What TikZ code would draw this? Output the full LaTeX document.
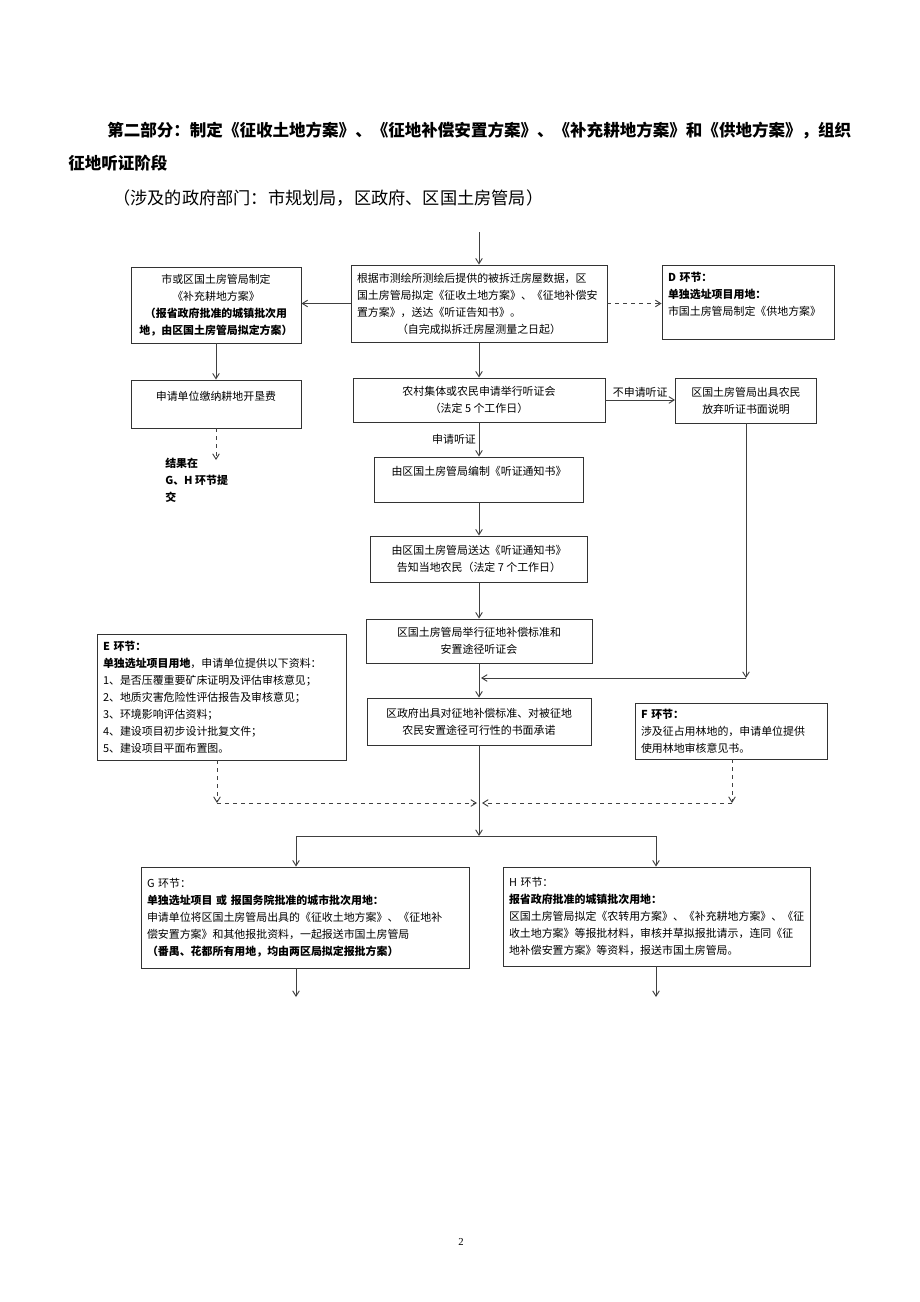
\documentclass[tikz,border=0pt]{standalone}
\usepackage{fontspec}
\setmainfont{Noto Sans CJK SC}
\newfontfamily\pagenum{Liberation Serif}
\usetikzlibrary{arrows.meta,positioning}

\begin{document}
\begin{tikzpicture}[x=0.75pt, y=-0.75pt,
            box/.style={rectangle, draw=black!80, line width=0.7pt, inner sep=3pt, align=center, font=\fontsize{8.2pt}{12.75pt}\selectfont},
            leftbox/.style={box, inner xsep=4.5pt, align=left, text width=#1},
            arrow/.style={-{Straight Barb[length=4pt,width=5pt]}, line width=0.7pt, black!75},
            dasharrow/.style={arrow, dashed},
            link/.style={line width=0.7pt, black!75},
            lbl/.style={text=black, font=\fontsize{8.2pt}{10pt}\selectfont, inner sep=2pt}
            ]
            \useasboundingbox (0,0) rectangle (920,1302);

            % Heading
            \node[anchor=west, inner sep=0pt, font=\bfseries\fontsize{12.4pt}{15pt}\selectfont] (title) at (107,131) {第二部分：制定《征收土地方案》、《征地补偿安置方案》、《补充耕地方案》和《供地方案》，组织};
            \node[anchor=west, inner sep=0pt, font=\bfseries\fontsize{12.4pt}{15pt}\selectfont] (title2) at (68,163) {征地听证阶段};
            \node[anchor=west, inner sep=0pt, font=\fontsize{12.9pt}{15pt}\selectfont] (depts) at (113,198) {（涉及的政府部门：市规划局，区政府、区国土房管局）};

            % First row
            \node[leftbox=183pt, minimum height=57.75pt] (survey) at (479,303.5) {根据市测绘所测绘后提供的被拆迁房屋数据，区\\国土房管局拟定《征收土地方案》、《征地补偿安\\置方案》，送达《听证告知书》。\\\makebox[\linewidth]{（自完成拟拆迁房屋测量之日起）}};
            \node[box, minimum width=127.5pt, minimum height=57pt] (plan) at (216,305) {市或区国土房管局制定\\《补充耕地方案》\\\textbf{（报省政府批准的城镇批次用}\\\textbf{地，由区国土房管局拟定方案）}};
            \node[leftbox=120pt, minimum height=55.5pt] (supply) at (748,302) {\textbf{D 环节：}\\\textbf{单独选址项目用地：}\\市国土房管局制定《供地方案》\\\mbox{}};

            % Fee branch
            \node[box, minimum width=127.5pt, minimum height=36pt] (fee) at (216,404) {申请单位缴纳耕地开垦费\\\mbox{}};
            \coordinate (feeend) at (216,460);
            \node[anchor=north west, align=left, inner sep=0pt, font=\bfseries\fontsize{8.2pt}{12.75pt}\selectfont] (result) at (165,458) {结果在\\G、H 环节提\\交};

            % Hearing chain
            \node[box, minimum width=189pt, minimum height=33pt] (apply) at (479,400) {农村集体或农民申请举行听证会\\（法定 5 个工作日）};
            \node[box, minimum width=105.75pt, minimum height=33.75pt] (waive) at (746,400.5) {区国土房管局出具农民\\放弃听证书面说明};
            \node[box, minimum width=156.75pt, minimum height=33.75pt] (compile) at (479,479.5) {由区国土房管局编制《听证通知书》\\\mbox{}};
            \node[box, minimum width=162.75pt, minimum height=34.5pt] (notify) at (479,559) {由区国土房管局送达《听证通知书》\\告知当地农民（法定 7 个工作日）};
            \node[box, minimum width=169.5pt, minimum height=33pt] (hearing) at (479,641) {区国土房管局举行征地补偿标准和\\安置途径听证会};
            \node[box, minimum width=168pt, minimum height=35.25pt] (promise) at (479,721.5) {区政府出具对征地补偿标准、对被征地\\农民安置途径可行性的书面承诺};

            % Side materials
            \node[leftbox=177.75pt, minimum height=94.5pt] (matE) at (221.5,697) {\textbf{E 环节：}\\\textbf{单独选址项目用地}，申请单位提供以下资料：\\1、是否压覆重要矿床证明及评估审核意见；\\2、地质灾害危险性评估报告及审核意见；\\3、环境影响评估资料；\\4、建设项目初步设计批复文件；\\5、建设项目平面布置图。};
            \node[leftbox=135pt, minimum height=42pt] (forest) at (731,731) {\textbf{F 环节：}\\涉及征占用林地的，申请单位提供\\使用林地审核意见书。};

            % Final stage
            \node[leftbox=237pt, minimum height=75.75pt] (stageG) at (305,917.5) {G 环节：\\\textbf{单独选址项目 或 报国务院批准的城市批次用地：}\\申请单位将区国土房管局出具的《征收土地方案》、《征地补\\偿安置方案》和其他报批资料，一起报送市国土房管局\\\textbf{（番禺、花都所有用地，均由两区局拟定报批方案）}};
            \node[leftbox=221.25pt, minimum height=74.25pt] (stageH) at (656.5,916.5) {H 环节：\\\textbf{报省政府批准的城镇批次用地：}\\区国土房管局拟定《农转用方案》、《补充耕地方案》、《征\\收土地方案》等报批材料，审核并草拟报批请示，连同《征\\地补偿安置方案》等资料，报送市国土房管局。};

            \node[font=\pagenum\fontsize{8pt}{10pt}\selectfont] (pageno) at (461,1242) {2};

            % Turning points
            \coordinate (entry) at (479,232);
            \coordinate (joinR) at (746,678);
            \coordinate (joinM) at (481,678);
            \coordinate (turnE) at (217,803);
            \coordinate (midE) at (477,803);
            \coordinate (turnF) at (732,803);
            \coordinate (midF) at (482,803);
            \coordinate (split) at (479,836);
            \coordinate (splitG) at (296,836);
            \coordinate (splitH) at (656,836);
            \coordinate (outG) at (296,997);
            \coordinate (outH) at (656,997);

            % Top row
            \draw[arrow] (entry) -- (survey);
            \draw[arrow] (survey.west) -- (survey.west -| plan.east);
            \draw[dasharrow] (survey.east) -- (survey.east -| supply.west);
            \draw[arrow] (plan) -- (fee);
            \draw[dasharrow] (fee) -- (feeend);

            % Hearing or not
            \draw[arrow] (survey) -- (apply);
            \draw[arrow] (apply.east) -- node[above, lbl] {不申请听证} (apply.east -| waive.west);
            \draw[arrow] (apply) -- node[left, lbl] {申请听证} (compile);
            \draw[arrow] (compile) -- (notify);
            \draw[arrow] (notify) -- (hearing);
            \draw[arrow] (hearing) -- (promise);
            \draw[arrow] (waive) -- (joinR);
            \draw[arrow] (joinR) -- (joinM);

            % Materials E and F
            \draw[dasharrow] (matE.south -| turnE) -- (turnE);
            \draw[dasharrow] (turnE) -- (midE);
            \draw[dasharrow] (forest.south -| turnF) -- (turnF);
            \draw[dasharrow] (turnF) -- (midF);

            % Split to G and H
            \draw[arrow] (promise) -- (split);
            \draw[link] (splitG) -- (splitH);
            \draw[arrow] (splitG) -- (splitG |- stageG.north);
            \draw[arrow] (splitH) -- (splitH |- stageH.north);
            \draw[arrow] (stageG.south -| outG) -- (outG);
            \draw[arrow] (stageH.south -| outH) -- (outH);

        \end{tikzpicture}
\end{document}
